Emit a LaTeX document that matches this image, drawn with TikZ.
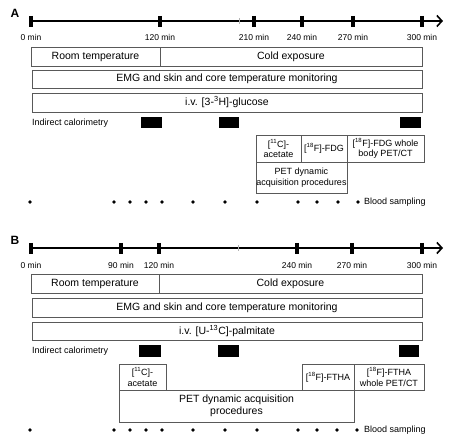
\documentclass[tikz,border=0pt]{standalone}
\usepackage{fontspec}
\setmainfont{Liberation Sans}
\usetikzlibrary{arrows.meta}

\tikzset{
  box/.style={draw=black!65, line width=0.7pt},
  tickmark/.style={line width=3.5pt},
  timeaxis/.style={line width=1.8pt, -{Straight Barb[length=5pt,width=11pt,line width=1.6pt]}},
  minlabel/.style={font=\fontsize{8.5}{10}\selectfont},
  boxtext/.style={font=\fontsize{10.5}{12}\selectfont, align=center},
  smalltext/.style={font=\fontsize{9}{10.5}\selectfont, align=center},
  panel/.style={font=\bfseries\fontsize{12}{14}\selectfont},
}

\begin{document}
\begin{tikzpicture}[x=1pt, y=-1pt]
\useasboundingbox (0,0) rectangle (453,446);

% panel A
\node[panel] (labA) at (15,13) {A};
\draw[timeaxis] (31,21) -- (443,21);
\draw[black!30, line width=0.4pt] (239,18) -- (239,24);
\foreach \x/\t in {31/0,160/120,254/210,302/240,353/270,422/300} {
  \draw[tickmark] (\x,16) -- (\x,27);
  \node[minlabel] (tA\t) at (\x,37) {\t{} min};
}
\draw[box] (31,47) rectangle (160,66) node[midway, boxtext] (roomA) {Room temperature};
\draw[box] (160,47) rectangle (422,66) node[midway, boxtext] (coldA) {Cold exposure};
\draw[box] (32,70) rectangle (422,88) node[midway, boxtext] (emgA) {EMG and skin and core temperature monitoring};
\draw[box] (32,93) rectangle (422,112) node[midway, boxtext] (ivA) {i.v. [3-\textsuperscript{3}H]-glucose};
\node[smalltext, anchor=west, inner sep=0pt] (calA) at (32,123) {Indirect calorimetry};
\fill (141,117) rectangle (162,128);
\fill (219,117) rectangle (239,128);
\fill (400,117) rectangle (421,128);
\draw[box] (256,135) rectangle (301,162) node[midway, smalltext] (acA) {[\textsuperscript{11}C]-\\acetate};
\draw[box] (301,135) rectangle (347,162) node[midway, smalltext] (fdgA) {[\textsuperscript{18}F]-FDG};
\draw[box] (347,135) rectangle (424,162) node[midway, smalltext] (wbA) {[\textsuperscript{18}F]-FDG whole\\body PET/CT};
\draw[box] (256,162) rectangle (347,193) node[midway, smalltext] (petA) {PET dynamic\\acquisition procedures};
\foreach \x in {30,114,130,146,162,193,225,257,298,317,338,358}
  \fill (\x,202) circle (1.9pt);
\node[smalltext, anchor=west, inner sep=0pt] (bloodA) at (364,202) {Blood sampling};

% panel B
\node[panel] (labB) at (15,240) {B};
\draw[timeaxis] (31,248) -- (443,248);
\draw[black!30, line width=0.4pt] (238,245) -- (238,251);
\foreach \x/\t in {31/0,121/90,159/120,297/240,352/270,422/300} {
  \draw[tickmark] (\x,243) -- (\x,254);
  \node[minlabel] (tB\t) at (\x,265) {\t{} min};
}
\draw[box] (31,274) rectangle (159,293) node[midway, boxtext] (roomB) {Room temperature};
\draw[box] (159,274) rectangle (422,293) node[midway, boxtext] (coldB) {Cold exposure};
\draw[box] (32,298) rectangle (422,317) node[midway, boxtext] (emgB) {EMG and skin and core temperature monitoring};
\draw[box] (32,322) rectangle (422,340) node[midway, boxtext] (ivB) {i.v. [U-\textsuperscript{13}C]-palmitate};
\node[smalltext, anchor=west, inner sep=0pt] (calB) at (32,351) {Indirect calorimetry};
\fill (139,345) rectangle (161,357);
\fill (218,345) rectangle (239,357);
\fill (399,345) rectangle (419,357);
\draw[box] (119,364) rectangle (166,390) node[midway, smalltext] (acB) {[\textsuperscript{11}C]-\\acetate};
\draw[box] (302,364) rectangle (354,390) node[midway, smalltext] (fthaB) {[\textsuperscript{18}F]-FTHA};
\draw[box] (354,364) rectangle (424,390) node[midway, smalltext] (wbB) {[\textsuperscript{18}F]-FTHA\\whole PET/CT};
\draw[box] (119,390) rectangle (354,422) node[midway, boxtext] (petB) {PET dynamic acquisition\\procedures};
\foreach \x in {30,114,130,146,162,193,225,257,298,317,337,357}
  \fill (\x,430) circle (1.9pt);
\node[smalltext, anchor=west, inner sep=0pt] (bloodB) at (364,430) {Blood sampling};
\end{tikzpicture}
\end{document}
